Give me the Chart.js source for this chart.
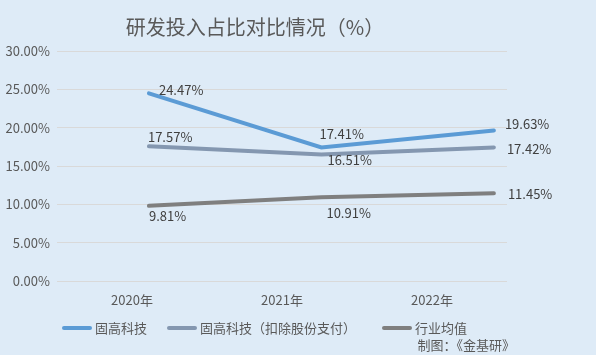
<!DOCTYPE html>
<html><head><meta charset="utf-8">
<script src="https://cdn.jsdelivr.net/npm/chart.js@4/dist/chart.umd.min.js"></script>
<style>html,body{margin:0;padding:0;background:#deebf7;}#wrap{width:596px;height:355px;}</style>
</head><body><div id="wrap"><canvas id="c" width="596" height="355"></canvas></div>
<script>
const categories = ['2020年', '2021年', '2022年'];
const gugaoValues = [24.47, 17.41, 19.63];
const gugaoExShareValues = [17.57, 16.51, 17.42];
const industryAvgValues = [9.81, 10.91, 11.45];
const seriesNames = ['固高科技', '固高科技（扣除股份支付）', '行业均值'];
const yTicks = [0, 5, 10, 15, 20, 25, 30];
const titleText = '研发投入占比对比情况（%）';
const sourceText = '制图：《金基研》';

const colors = ['#5b9bd5', '#8497b0', '#7f7f7f'];
const labelOffsets = [
  [[10, -3], [-2, -13.5], [11, -6.5]],
  [[-1, -9], [6, 6], [13, 1.5]],
  [[0, 10], [5, 15.5], [14, 1]]
];
const FONT = '"Noto Sans CJK SC", "Liberation Sans", sans-serif';

function toPoints(arr){ return arr.map((v,i)=>({x:i, y:v})); }
const seriesData = [gugaoValues, gugaoExShareValues, industryAvgValues];

const datasets = seriesData.map((arr, i) => ({
  label: seriesNames[i],
  data: toPoints(arr),
  xAxisID: 'x2',
  borderColor: colors[i],
  backgroundColor: colors[i],
  borderWidth: 4,
  pointRadius: 0,
  tension: 0,
  borderCapStyle: 'round'
}));

const extras = {
  id: 'extras',
  beforeDraw(chart){
    const ctx = chart.ctx;
    ctx.save();
    ctx.fillStyle = '#deebf7';
    ctx.fillRect(0,0,chart.width,chart.height);
    ctx.restore();
  },
  afterDraw(chart){
    const ctx = chart.ctx;
    ctx.save();
    ctx.fillStyle = '#595959';
    ctx.font = '20px ' + FONT;
    ctx.textAlign = 'center';
    ctx.textBaseline = 'middle';
    ctx.fillText(titleText, 255, 27);
    ctx.font = '13px ' + FONT;
    ctx.fillStyle = '#404040';
    ctx.textAlign = 'left';
    chart.data.datasets.forEach((ds, di) => {
      const meta = chart.getDatasetMeta(di);
      meta.data.forEach((pt, pi) => {
        const v = seriesData[di][pi];
        const off = labelOffsets[di][pi];
        ctx.fillText(v.toFixed(2) + '%', pt.x + off[0], pt.y + off[1]);
      });
    });
    ctx.font = '13px ' + FONT;
    ctx.textBaseline = 'middle';
    let x = 62;
    const ly = 328;
    const gaps = [20, 26, 0];
    chart.data.datasets.forEach((ds, di) => {
      ctx.strokeStyle = ds.borderColor;
      ctx.lineWidth = 4;
      ctx.lineCap = 'round';
      ctx.beginPath();
      ctx.moveTo(x + 2, ly);
      ctx.lineTo(x + 28, ly);
      ctx.stroke();
      ctx.fillStyle = '#595959';
      ctx.fillText(ds.label, x + 33, ly);
      x += 33 + ctx.measureText(ds.label).width + gaps[di];
    });
    ctx.textAlign = 'right';
    ctx.fillStyle = '#595959';
    ctx.fillText(sourceText, 515, 345);
    ctx.restore();
  }
};

new Chart(document.getElementById('c'), {
  type: 'line',
  data: { labels: categories, datasets },
  options: {
    responsive: false,
    animation: false,
    devicePixelRatio: 1,
    layout: { padding: { top: 51, right: 89, bottom: 0, left: 0 } },
    plugins: { legend: { display: false }, title: { display: false }, tooltip: { enabled: false } },
    scales: {
      x: {
        type: 'category',
        offset: true,
        grid: { display: false },
        border: { display: false },
        ticks: { color: '#595959', font: { size: 13, family: FONT }, padding: 3 },
        afterFit(s){ s.height = 74; }
      },
      x2: {
        type: 'linear',
        display: false,
        min: -0.533,
        max: 2.076
      },
      y: {
        min: 0, max: 30,
        afterBuildTicks(s){ s.ticks = yTicks.map(v => ({value: v})); },
        grid: { color: '#d9d9d9', lineWidth: 1, drawTicks: false },
        border: { display: false },
        ticks: { color: '#595959', font: { size: 13, family: FONT }, padding: 7,
          callback: v => Number(v).toFixed(2) + '%' },
        afterFit(s){ s.width = 57; }
      }
    }
  },
  plugins: [extras]
});
</script>
</body></html>
